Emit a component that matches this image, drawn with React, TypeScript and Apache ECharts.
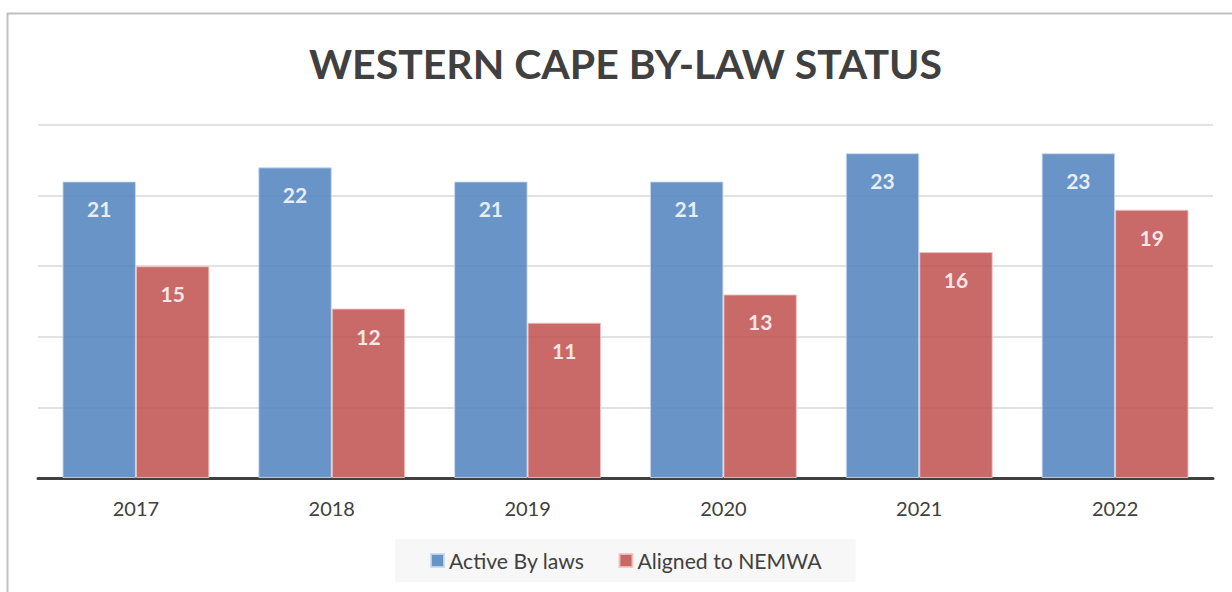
import React, { useEffect, useRef } from "react";
import * as echarts from "echarts";

const years = ["2017", "2018", "2019", "2020", "2021", "2022"];
const activeByLaws = [21, 22, 21, 21, 23, 23];
const alignedNemwa = [15, 12, 11, 13, 16, 19];
const seriesNames = ["Active By laws", "Aligned to NEMWA"];
const titleText = "WESTERN CAPE BY-LAW STATUS";

const FONT = "Lato, 'Open Sans', sans-serif";

export default function App() {
  const ref = useRef<HTMLDivElement>(null);
  useEffect(() => {
    const chart = echarts.init(ref.current!, null, { renderer: "svg" });
    const label = {
      show: true,
      position: "insideTop",
      distance: 17,
      color: "#ffffff",
      fontWeight: "bold",
      fontSize: 21,
      fontFamily: FONT,
    };
    chart.setOption({
      animation: false,
      backgroundColor: "#ffffff",
      title: {
        text: titleText,
        left: 304,
        top: 38,
        textStyle: { fontFamily: FONT, fontWeight: "bold", fontSize: 41, color: "#404040" },
      },
      graphic: [
        {
          type: "rect",
          shape: { x: 7.5, y: 13.5, width: 1300, height: 700 },
          style: { fill: "none", stroke: "#bfbfbf", lineWidth: 2 },
          silent: true,
        },
      ],
      legend: {
        data: seriesNames,
        left: 395,
        top: 539,
        backgroundColor: "#f7f7f7",
        padding: [11, 34, 11, 35],
        itemWidth: 13,
        itemHeight: 13,
        itemGap: 34,
        icon: "rect",
        textStyle: { fontFamily: FONT, fontSize: 21.2, color: "#404040" },
      },
      grid: { left: 38, right: 19, top: 125, bottom: 114 },
      xAxis: {
        type: "category",
        data: years,
        axisLine: { show: true, lineStyle: { color: "#404040", width: 3 } },
        axisTick: { show: false },
        axisLabel: { fontFamily: FONT, fontSize: 20, color: "#404040", margin: 20 },
      },
      yAxis: {
        type: "value",
        min: 0,
        max: 25,
        interval: 5,
        axisLabel: { show: false },
        axisLine: { show: false },
        axisTick: { show: false },
        splitLine: { lineStyle: { color: "#d9d9d9", width: 1.5 } },
      },
      series: [
        {
          name: seriesNames[0],
          type: "bar",
          data: activeByLaws,
          barGap: "0%",
          barCategoryGap: "25%",
          itemStyle: { color: "#4f81bd", opacity: 0.85, borderColor: "#c8d8ee", borderWidth: 1 },
          label,
        },
        {
          name: seriesNames[1],
          type: "bar",
          data: alignedNemwa,
          itemStyle: { color: "#c0504d", opacity: 0.85, borderColor: "#f0c4c3", borderWidth: 1 },
          label,
        },
      ],
    });
    return () => chart.dispose();
  }, []);
  return <div ref={ref} style={{ position: "fixed", left: 0, top: 0, width: 1232, height: 592 }} />;
}
